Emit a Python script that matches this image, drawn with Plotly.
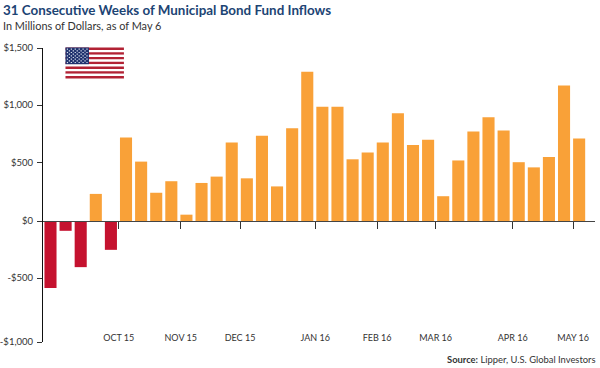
import plotly.graph_objects as go

weeks = list(range(36))
flows = [-580, -85, -400, 235, -250, 725, 515, 245, 345, 55, 330, 385, 680, 370, 740, 300, 805, 1295,
         990, 990, 535, 595, 680, 935, 660, 705, 215, 525, 775, 900, 785, 510, 465, 555, 1175, 715]
month_labels = ["OCT 15", "NOV 15", "DEC 15", "JAN 16", "FEB 16", "MAR 16", "APR 16", "MAY 16"]
month_pos = [4.52, 8.62, 12.55, 17.53, 21.62, 25.5, 30.6, 34.6]
y_labels = ["$1,500", "$1,000", "$500", "$0", "-$500", "-$1,000"]
y_pos = [1500, 1005, 505, 0, -495, -1049]

ORANGE = "#F9A138"
RED = "#C5122F"
NAVY = "#1C4474"
W, H = 600, 368
L, R, T, B = 42.5, 595, 48, 342

fig = go.Figure()
fig.add_bar(x=weeks, y=flows, width=0.8,
            marker=dict(color=[ORANGE if v >= 0 else RED for v in flows], line_width=0),
            showlegend=False, hoverinfo="skip")
fig.add_scatter(x=[0], y=[0], xaxis="x2", mode="markers", marker=dict(opacity=0),
                showlegend=False, hoverinfo="skip")

xr = [-0.496, 36.05]
zero_pos = (B - 221) / (B - T)
fig.update_layout(
    width=W, height=H, autosize=False, paper_bgcolor="white", plot_bgcolor="white",
    margin=dict(l=L, r=W - R, t=T, b=H - B, pad=0, autoexpand=False),
    font=dict(family="Lato, 'Open Sans', sans-serif", color="#333333", size=10),
    xaxis=dict(range=xr, anchor="free", position=zero_pos, tickmode="array", tickvals=month_pos,
               ticktext=[""] * len(month_pos), ticks="outside", ticklen=7, tickwidth=1,
               tickcolor="#333333", showgrid=False, zeroline=False, showline=True,
               linecolor="#444444", linewidth=1, automargin=False),
    xaxis2=dict(range=xr, overlaying="x", anchor="free", position=0.036, side="bottom",
                tickmode="array", tickvals=month_pos, ticktext=month_labels, ticks="",
                showgrid=False, zeroline=False, showline=False, automargin=False,
                tickfont=dict(size=9, color="#333333")),
    yaxis=dict(range=[-1049, 1500], tickmode="array", tickvals=y_pos, ticktext=y_labels,
               ticks="outside", ticklen=5, tickwidth=1, tickcolor="#333333", showgrid=False,
               zeroline=False, showline=True, linecolor="#111111", linewidth=1, automargin=False,
               ticklabelstandoff=2,
               tickfont=dict(size=9.5, color="#333333")),
    annotations=[
        dict(text="<b>31 Consecutive Weeks of Municipal Bond Fund Inflows</b>", xref="paper", yref="paper",
             x=(0 - L) / (R - L), y=(B - 10) / (B - T), xanchor="left", yanchor="middle", showarrow=False,
             font=dict(size=13.4, color=NAVY)),
        dict(text="In Millions of Dollars, as of May 6", xref="paper", yref="paper",
             x=(0 - L) / (R - L), y=(B - 26) / (B - T), xanchor="left", yanchor="middle", showarrow=False,
             font=dict(size=10.9, color="#333333")),
        dict(text="<b>Source:</b> Lipper, U.S. Global Investors", xref="paper", yref="paper",
             x=(598 - L) / (R - L), y=(B - 359) / (B - T), xanchor="right", yanchor="middle", showarrow=False,
             font=dict(size=9.4, color="#333333")),
    ],
)

fx0, fx1, fy0, fy1 = 65, 123.5, 47.5, 78.5
def px(x): return (x - L) / (R - L)
def py(y): return (B - y) / (B - T)
shapes = []
def rect(x0, x1, y0, y1, color):
    shapes.append(dict(type="rect", xref="paper", yref="paper", x0=px(x0), x1=px(x1), y0=py(y0), y1=py(y1),
                       fillcolor=color, line_width=0, layer="above"))
sh = (fy1 - fy0) / 13
for i in range(13):
    rect(fx0, fx1, fy0 + i * sh, fy0 + (i + 1) * sh, "#B22234" if i % 2 == 0 else "#FFFFFF")
cw, ch = 23.5, 7 * sh
rect(fx0, fx0 + cw, fy0, fy0 + ch, "#21336F")
for row in range(9):
    n = 6 if row % 2 == 0 else 5
    for c in range(n):
        cx = fx0 + cw * (c * 2 + (1 if row % 2 == 0 else 2)) / 12
        cy = fy0 + ch * (row + 1) / 10
        rect(cx - 0.6, cx + 0.6, cy - 0.6, cy + 0.6, "#DDE3F0")
fig.update_layout(shapes=shapes)

fig.write_html("out.html", config={"displayModeBar": False},
               post_script="document.body.style.margin='0';")
